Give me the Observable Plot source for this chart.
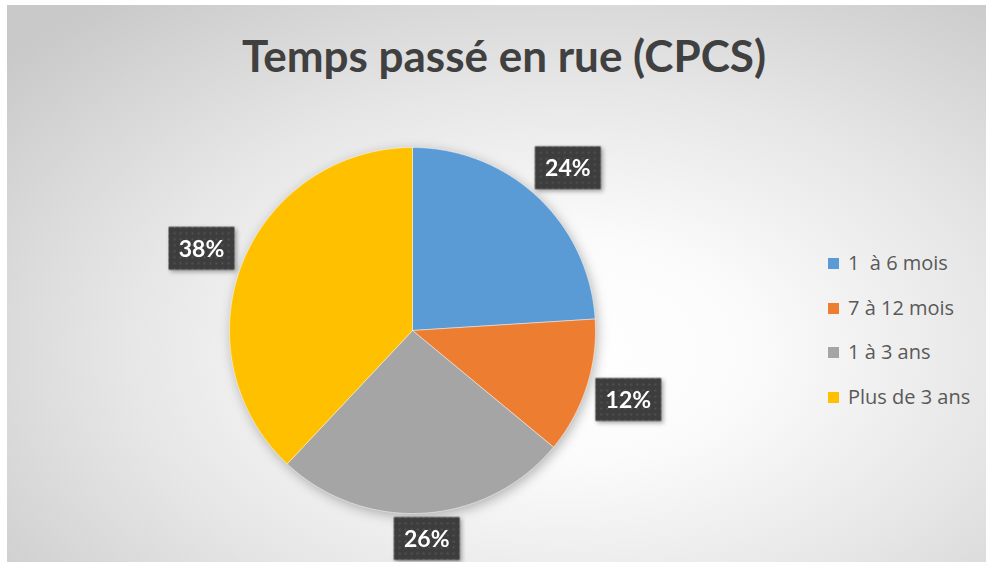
<!DOCTYPE html>
<html><head><meta charset="utf-8">
<script src="https://cdn.jsdelivr.net/npm/d3@7"></script>
<script src="https://cdn.jsdelivr.net/npm/@observablehq/plot@0.6"></script>
<style>
html,body{margin:0;padding:0;background:#fff;}
#wrap{position:relative;width:986px;height:562px;overflow:hidden;}
#chart{position:absolute;left:7px;top:5px;}
#chart svg{display:block;background:radial-gradient(ellipse 75% 80% at 57% 62%, #ffffff 0%, #fbfbfb 25%, #e6e6e6 60%, #c9c9c9 100%);}
#title{position:absolute;left:504px;top:29px;transform:translateX(-50%);white-space:nowrap;font:bold 44px Lato, "Open Sans", sans-serif;color:#404040;margin:0;}
#legend{position:absolute;left:828px;top:249px;font:20px "Open Sans", Lato, sans-serif;color:#595959;}
#legend .row{height:44.5px;display:flex;align-items:flex-start;white-space:pre;}
#legend .sw{width:11px;height:11px;margin-top:9px;margin-right:9px;}
</style></head>
<body>
<div id="wrap">
  <div id="chart"></div>
  <div id="title"></div>
  <div id="legend"></div>
</div>
<script>
const titleText = "Temps passé en rue (CPCS)";
const categories = ["1  à 6 mois", "7 à 12 mois", "1 à 3 ans", "Plus de 3 ans"];
const values = [24, 12, 26, 38];
const colors = ["#5B9BD5", "#ED7D31", "#A5A5A5", "#FFC000"];
const valueLabels = ["24%", "12%", "26%", "38%"];

const W = 979, H = 557, cx = 405, cy = 325, R = 183;

// slice polygons from pie angles (start at 12 o'clock, clockwise)
const arcs = d3.pie().sort(null).value(d => d)(values);
const slicePts = [];
arcs.forEach((a, i) => {
  slicePts.push({cat: categories[i], x: 0, y: 0});
  const n = Math.max(2, Math.ceil((a.endAngle - a.startAngle) / (Math.PI / 360)));
  for (let k = 0; k <= n; k++) {
    const t = a.startAngle + (a.endAngle - a.startAngle) * k / n;
    slicePts.push({cat: categories[i], x: Math.sin(t), y: Math.cos(t)});
  }
  slicePts.push({cat: categories[i], x: 0, y: 0});
});

// label positions outside slices
const minY = -(H - 24 - cy) / R;
const labelData = arcs.map((a, i) => {
  const m = (a.startAngle + a.endAngle) / 2;
  return {label: valueLabels[i], x: Math.sin(m) * 1.24, y: Math.max(Math.cos(m) * 1.22, minY)};
});

const boxSymbol = {draw(ctx) { ctx.rect(-33, -21.5, 66, 43); }};

const plot = Plot.plot({
  width: W, height: H, margin: 0,
  x: {domain: [-1, 1], range: [cx - R, cx + R], axis: null},
  y: {domain: [-1, 1], range: [cy + R, cy - R], axis: null},
  color: {domain: categories, range: colors},
  style: {overflow: "visible", fontFamily: "Lato, 'Open Sans', sans-serif"},
  marks: [
    Plot.line(slicePts, {x: "x", y: "y", z: "cat", fill: "cat", stroke: "#ffffff", strokeWidth: 0.8, strokeOpacity: 0.6, curve: "linear"}),
    Plot.dot(labelData, {x: "x", y: "y", symbol: boxSymbol, r: 10, fill: "#404040", stroke: "none"}),
    Plot.text(labelData, {x: "x", y: "y", text: "label", fill: "#ffffff", fontSize: 23, fontWeight: "bold", dy: 1})
  ]
});

// pattern + shadows
const ns = "http://www.w3.org/2000/svg";
const defs = document.createElementNS(ns, "defs");
defs.innerHTML = `<pattern id="dotpat" patternUnits="userSpaceOnUse" width="6" height="6">
  <rect width="6" height="6" fill="#3d3d3d"/><circle cx="3" cy="3" r="0.9" fill="#5c5c5c"/></pattern>`;
plot.insertBefore(defs, plot.firstChild);
plot.querySelectorAll('g[aria-label="line"]').forEach(g => g.style.filter = "drop-shadow(2px 3px 6px rgba(0,0,0,0.28))");
plot.querySelectorAll('g[aria-label="dot"]').forEach(g => {
  g.style.filter = "drop-shadow(2px 2px 2px rgba(0,0,0,0.35))";
  g.querySelectorAll("path").forEach(p => p.setAttribute("fill", "url(#dotpat)"));
});
document.getElementById("chart").appendChild(plot);

document.getElementById("title").textContent = titleText;
const leg = document.getElementById("legend");
categories.forEach((c, i) => {
  const row = document.createElement("div"); row.className = "row";
  const sw = document.createElement("div"); sw.className = "sw"; sw.style.background = plot.scale("color").apply(c);
  const tx = document.createElement("span"); tx.textContent = c;
  row.appendChild(sw); row.appendChild(tx); leg.appendChild(row);
});
</script>
</body></html>
